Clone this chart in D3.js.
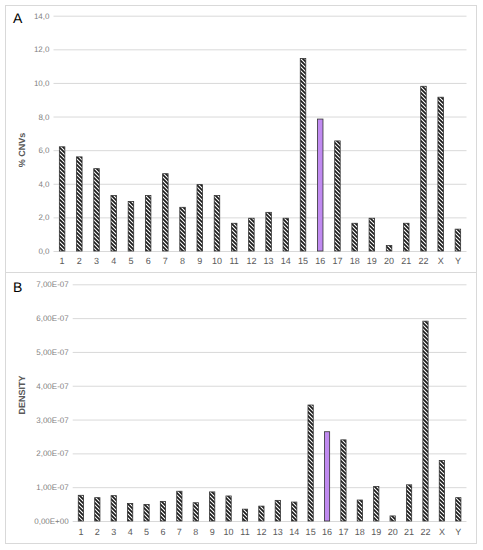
<!DOCTYPE html>
<html>
<head>
<meta charset="utf-8">
<script src="https://cdn.jsdelivr.net/npm/d3@7"></script>
<style>
  html, body { margin: 0; padding: 0; background: #fff; }
  svg { display: block; font-family: "Liberation Sans", Arial, sans-serif; }
</style>
</head>
<body>
<div id="chart"></div>
<script>
// Chromosome categories
const chromosomes = ['1','2','3','4','5','6','7','8','9','10','11','12','13','14','15','16','17','18','19','20','21','22','X','Y'];
// Panel A: % of CNVs per chromosome
const cnvPercent = [6.2, 5.6, 4.9, 3.3, 2.95, 3.3, 4.6, 2.6, 3.95, 3.3, 1.65, 1.95, 2.3, 1.95, 11.45, 7.85, 6.55, 1.65, 1.95, 0.33, 1.65, 9.8, 9.15, 1.3];
// Panel B: CNV density per chromosome
const density = [7.6e-8, 6.9e-8, 7.5e-8, 5.2e-8, 4.9e-8, 5.8e-8, 8.8e-8, 5.4e-8, 8.6e-8, 7.4e-8, 3.5e-8, 4.4e-8, 6.1e-8, 5.6e-8, 3.43e-7, 2.64e-7, 2.40e-7, 6.2e-8, 1.02e-7, 1.5e-8, 1.07e-7, 5.91e-7, 1.79e-7, 6.9e-8];
const ticksA = [0, 2, 4, 6, 8, 10, 12, 14];
const ticksB = [0, 1e-7, 2e-7, 3e-7, 4e-7, 5e-7, 6e-7, 7e-7];
const highlighted = '16';

const width = 483, height = 550;
const svg = d3.select('#chart').append('svg')
    .attr('width', width)
    .attr('height', height)
    .attr('text-rendering', 'geometricPrecision');

// Hatch pattern (wide downward diagonal)
const defs = svg.append('defs');
defs.append('pattern')
    .attr('id', 'hatch')
    .attr('patternUnits', 'userSpaceOnUse')
    .attr('width', 4)
    .attr('height', 4)
    .call(p => {
        p.append('rect').attr('width', 4).attr('height', 4).attr('fill', '#fff');
        p.append('path')
            .attr('d', 'M-1,-1L5,5M-1,3L1,5M3,-1L5,1')
            .attr('stroke', '#1a1a1a')
            .attr('stroke-width', 1.7);
    });

// Outer frame and separator
svg.append('rect')
    .attr('x', 5.5).attr('y', 5.5)
    .attr('width', 471).attr('height', 538)
    .attr('fill', 'none')
    .attr('stroke', '#d9d9d9');
svg.append('line')
    .attr('x1', 5.5).attr('x2', 476.5)
    .attr('y1', 272.5).attr('y2', 272.5)
    .attr('stroke', '#d9d9d9');

function fmtA(v) {
    return d3.format('.1f')(v).replace('.', ',');
}
function fmtB(v) {
    if (v === 0) return '0,00E+00';
    const [m, e] = v.toExponential(2).split('e');
    const n = +e;
    return m.replace('.', ',') + 'E' + (n < 0 ? '-' : '+') + String(Math.abs(n)).padStart(2, '0');
}

function drawPanel(opts) {
    const { values, ticks, fmt, left, right, top, bottom, letter, letterY, title, titleY, labelDy } = opts;

    const x = d3.scaleBand()
        .domain(chromosomes)
        .range([left, right])
        .paddingInner(0.68)
        .paddingOuter(0.34);

    const y = d3.scaleLinear()
        .domain([0, d3.max(ticks)])
        .range([bottom, top]);

    const g = svg.append('g');

    // Gridlines + y tick labels
    const yAxis = g.append('g')
        .attr('transform', `translate(${left},0)`)
        .call(d3.axisLeft(y).tickValues(ticks).tickFormat(fmt)
            .tickSize(-(right - left)).tickPadding(4));
    yAxis.select('.domain').remove();
    yAxis.selectAll('.tick line').attr('stroke', '#d9d9d9');
    yAxis.selectAll('.tick text')
        .attr('fill', '#7f7f7f')
        .attr('font-size', 8)
        .attr('font-family', '"Liberation Sans", Arial, sans-serif');

    // X labels
    const xAxis = g.append('g')
        .attr('transform', `translate(0,${bottom})`)
        .call(d3.axisBottom(x).tickSize(0).tickPadding(labelDy));
    xAxis.select('.domain').remove();
    xAxis.selectAll('.tick text')
        .attr('fill', '#595959')
        .attr('font-size', 9)
        .attr('font-family', '"Liberation Sans", Arial, sans-serif');

    // Bars
    g.append('g')
        .selectAll('rect')
        .data(chromosomes.map((c, i) => ({ c, v: values[i] })))
        .join('rect')
        .attr('x', d => x(d.c))
        .attr('y', d => y(d.v))
        .attr('width', x.bandwidth())
        .attr('height', d => bottom - y(d.v))
        .attr('fill', d => d.c === highlighted ? '#c08af0' : 'url(#hatch)')
        .attr('stroke', '#333')
        .attr('stroke-width', 0.8);

    // Panel letter
    svg.append('text')
        .attr('x', 13)
        .attr('y', letterY)
        .attr('font-size', 14)
        .attr('fill', '#000')
        .text(letter);

    // Y title
    svg.append('text')
        .attr('transform', `translate(25,${titleY}) rotate(-90)`)
        .attr('text-anchor', 'middle')
        .attr('font-size', 9)
        .attr('font-weight', 'bold')
        .attr('fill', '#595959')
        .text(title);
}

drawPanel({
    values: cnvPercent, ticks: ticksA, fmt: fmtA,
    left: 53.5, right: 466.5, top: 15.7, bottom: 251,
    letter: 'A', letterY: 23, title: '% CNVs', titleY: 150, labelDy: 7
});

drawPanel({
    values: density, ticks: ticksB, fmt: fmtB,
    left: 72.7, right: 466.5, top: 284.3, bottom: 521,
    letter: 'B', letterY: 292, title: 'DENSITY', titleY: 395, labelDy: 8
});
</script>
</body>
</html>
